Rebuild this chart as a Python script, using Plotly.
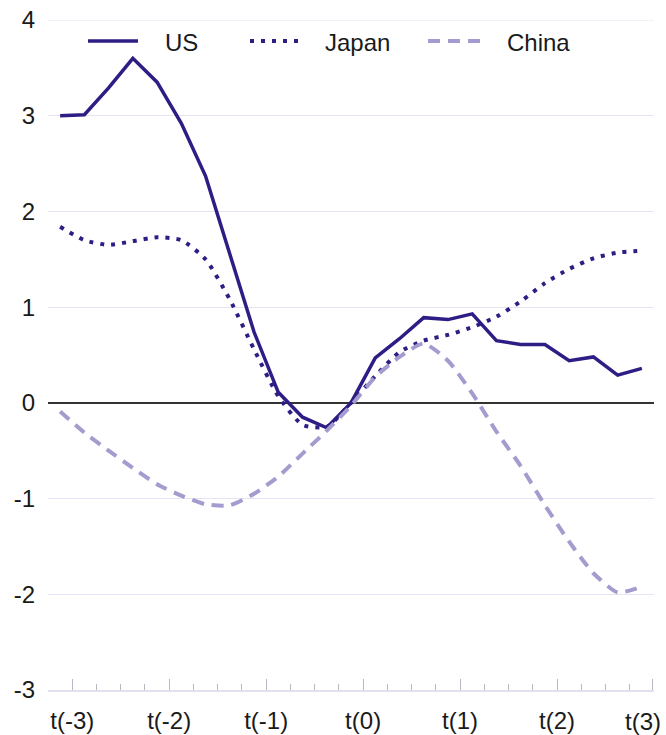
import plotly.graph_objects as go

# ---- data ----
quarters = list(range(25))
us = [3.00, 3.01, 3.29, 3.60, 3.35, 2.92, 2.37, 1.54, 0.74, 0.11, -0.15, -0.26,
      0.00, 0.47, 0.67, 0.89, 0.87, 0.93, 0.65, 0.61, 0.61, 0.44, 0.48, 0.29, 0.36]
japan = [1.84, 1.70, 1.65, 1.69, 1.73, 1.70, 1.50, 1.08, 0.56, 0.07, -0.23, -0.25,
         0.00, 0.28, 0.53, 0.65, 0.71, 0.79, 0.90, 1.06, 1.25, 1.40, 1.51, 1.57, 1.59]
china = [-0.09, -0.31, -0.50, -0.68, -0.85, -0.97, -1.06, -1.07, -0.95, -0.77, -0.53, -0.29,
         -0.03, 0.27, 0.48, 0.62, 0.44, 0.10, -0.30, -0.66, -1.07, -1.45, -1.78, -1.98, -1.92]
tick_labels = ["t(-3)", "t(-2)", "t(-1)", "t(0)", "t(1)", "t(2)", "t(3)"]
tick_positions = [0.5, 4.5, 8.5, 12.5, 16.5, 20.5, 24.45]
y_ticks = [-3, -2, -1, 0, 1, 2, 3, 4]
y_labels = ["-3", "-2", "-1", "0", "1", "2", "3", "4"]
series_names = ["US", "Japan", "China"]

# ---- style ----
DARK = "#2d1e86"
LIGHT = "#a49cce"
GRID = "#e6e4f4"
TEXT = "#1a1a1a"
FONT = "Liberation Sans, Arial, sans-serif"
W, H = 666, 735
L, R, T, B = 48, 12, 20, 45

styles = {
    "US": dict(color=DARK, width=3.5, dash="solid"),
    "Japan": dict(color=DARK, width=4, dash="4px,7px"),
    "China": dict(color=LIGHT, width=4, dash="12px,8px"),
}
values = {"US": us, "Japan": japan, "China": china}

fig = go.Figure()
for name in series_names:
    s = styles[name]
    fig.add_trace(go.Scatter(
        x=quarters, y=values[name], mode="lines", name=name,
        line=dict(color=s["color"], width=s["width"], dash=s["dash"],
                  shape="linear" if name == "US" else "spline", smoothing=0.6),
        showlegend=False,
    ))

# page pixel -> paper coordinate
def px_x(p):
    return (p - L) / (W - L - R)

def px_y(p):
    return (H - B - p) / (H - T - B)

# top gridline (plotly omits gridlines at the range edge)
shapes = [dict(type="line", xref="paper", yref="y", x0=0, x1=1, y0=max(y_ticks), y1=max(y_ticks),
               line=dict(color=GRID, width=1), layer="below")]
annotations = []
# custom legend (line sample + label)
legend_items = [("US", 88, 138, 163), ("Japan", 250, 300, 323), ("China", 428, 480, 505)]
for name, x0, x1, xt in legend_items:
    s = styles[name]
    shapes.append(dict(type="line", xref="paper", yref="paper",
                       x0=px_x(x0), x1=px_x(x1), y0=px_y(41), y1=px_y(41),
                       line=dict(color=s["color"], width=s["width"], dash=s["dash"])))
    annotations.append(dict(text=name, xref="paper", yref="paper",
                            x=px_x(xt), y=px_y(42), xanchor="left", yanchor="middle",
                            showarrow=False, font=dict(family=FONT, size=24, color=TEXT)))

# last x label is pulled inside the page edge (as in the reference)
annotations.append(dict(text=tick_labels[-1], xref="x", yref="paper",
                        x=tick_positions[-1], y=px_y(721), xanchor="right", yanchor="middle",
                        xshift=10, showarrow=False,
                        font=dict(family=FONT, size=24, color=TEXT)))
shown_tick_text = tick_labels[:-1] + [""]

fig.update_layout(
    width=W, height=H,
    margin=dict(l=L, r=R, t=T, b=B, autoexpand=False),
    paper_bgcolor="white", plot_bgcolor="white",
    font=dict(family=FONT, size=24, color=TEXT),
    shapes=shapes, annotations=annotations,
    showlegend=False,
)
fig.update_xaxes(
    range=[-0.5, 24.5], automargin=False, ticklabeloverflow="allow",
    tickmode="array", tickvals=tick_positions, ticktext=shown_tick_text,
    ticks="inside", ticklen=11, tickwidth=1, tickcolor="#b8b8c4",
    showgrid=False, zeroline=False,
    showline=True, linecolor="#e2e0ee", linewidth=1.5,
    ticklabelstandoff=9,
    minor=dict(ticks="inside", ticklen=6, tickwidth=1, tickcolor="#b8b8c4",
               tickmode="linear", tick0=-0.5, dtick=1, showgrid=False),
    tickfont=dict(family=FONT, size=24, color=TEXT),
    fixedrange=True,
)
fig.update_yaxes(
    range=[-3, 4], automargin=False, ticklabeloverflow="allow",
    tickmode="array", tickvals=y_ticks, ticktext=y_labels,
    showgrid=True, gridcolor=GRID, gridwidth=1,
    zeroline=True, zerolinecolor="#333333", zerolinewidth=1.5,
    showline=False, ticks="", ticklabelstandoff=12,
    tickfont=dict(family=FONT, size=24, color=TEXT),
    fixedrange=True,
)

fig.write_html(
    "out.html",
    config={"displayModeBar": False, "staticPlot": True},
    post_script="document.body.style.margin='0';document.documentElement.style.overflow='hidden';",
)
